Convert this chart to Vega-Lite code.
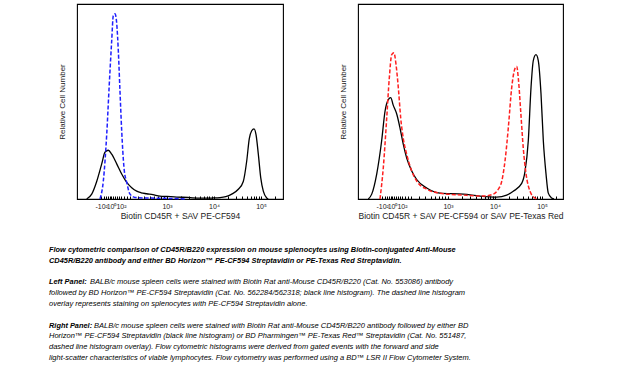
{
  "$schema": "https://vega.github.io/schema/vega-lite/v6.json",
  "padding": {"left": 49, "top": 3, "right": 5, "bottom": 5},
  "autosize": {"type": "pad"},
  "background": "white",
  "bounds": "flush",
  "spacing": 246,
  "config": {
    "view": {"stroke": "#000", "strokeWidth": 1.1},
    "font": "Liberation Sans",
    "axis": {"grid": false, "labelFontSize": 7, "labelColor": "#222", "titleFontSize": 8.5, "titleFontWeight": "normal", "titleColor": "#222", "domain": false}
  },
  "datasets": {
    "hist": [
      {"panel": "left", "stain": "Biotin CD45R + SAV PE-CF594", "x": 1.291, "y": 0},
      {"panel": "left", "stain": "Biotin CD45R + SAV PE-CF594", "x": 1.398, "y": 2.5},
      {"panel": "left", "stain": "Biotin CD45R + SAV PE-CF594", "x": 1.504, "y": 9},
      {"panel": "left", "stain": "Biotin CD45R + SAV PE-CF594", "x": 1.611, "y": 18},
      {"panel": "left", "stain": "Biotin CD45R + SAV PE-CF594", "x": 1.681, "y": 24},
      {"panel": "left", "stain": "Biotin CD45R + SAV PE-CF594", "x": 1.751, "y": 25},
      {"panel": "left", "stain": "Biotin CD45R + SAV PE-CF594", "x": 1.823, "y": 23},
      {"panel": "left", "stain": "Biotin CD45R + SAV PE-CF594", "x": 1.93, "y": 18},
      {"panel": "left", "stain": "Biotin CD45R + SAV PE-CF594", "x": 2.036, "y": 12.8},
      {"panel": "left", "stain": "Biotin CD45R + SAV PE-CF594", "x": 2.143, "y": 8.5},
      {"panel": "left", "stain": "Biotin CD45R + SAV PE-CF594", "x": 2.249, "y": 5.8},
      {"panel": "left", "stain": "Biotin CD45R + SAV PE-CF594", "x": 2.355, "y": 4},
      {"panel": "left", "stain": "Biotin CD45R + SAV PE-CF594", "x": 2.45, "y": 3.2},
      {"panel": "left", "stain": "Biotin CD45R + SAV PE-CF594", "x": 2.568, "y": 2.7},
      {"panel": "left", "stain": "Biotin CD45R + SAV PE-CF594", "x": 2.7, "y": 2.2},
      {"panel": "left", "stain": "Biotin CD45R + SAV PE-CF594", "x": 2.851, "y": 1.5},
      {"panel": "left", "stain": "Biotin CD45R + SAV PE-CF594", "x": 3.0, "y": 1.3},
      {"panel": "left", "stain": "Biotin CD45R + SAV PE-CF594", "x": 3.206, "y": 1},
      {"panel": "left", "stain": "Biotin CD45R + SAV PE-CF594", "x": 3.45, "y": 0.8},
      {"panel": "left", "stain": "Biotin CD45R + SAV PE-CF594", "x": 3.702, "y": 0.4},
      {"panel": "left", "stain": "Biotin CD45R + SAV PE-CF594", "x": 3.95, "y": 0.5},
      {"panel": "left", "stain": "Biotin CD45R + SAV PE-CF594", "x": 4.128, "y": 0.7},
      {"panel": "left", "stain": "Biotin CD45R + SAV PE-CF594", "x": 4.25, "y": 1.2},
      {"panel": "left", "stain": "Biotin CD45R + SAV PE-CF594", "x": 4.377, "y": 2.5},
      {"panel": "left", "stain": "Biotin CD45R + SAV PE-CF594", "x": 4.517, "y": 5},
      {"panel": "left", "stain": "Biotin CD45R + SAV PE-CF594", "x": 4.623, "y": 9},
      {"panel": "left", "stain": "Biotin CD45R + SAV PE-CF594", "x": 4.696, "y": 19.5},
      {"panel": "left", "stain": "Biotin CD45R + SAV PE-CF594", "x": 4.751, "y": 31},
      {"panel": "left", "stain": "Biotin CD45R + SAV PE-CF594", "x": 4.802, "y": 35},
      {"panel": "left", "stain": "Biotin CD45R + SAV PE-CF594", "x": 4.851, "y": 36},
      {"panel": "left", "stain": "Biotin CD45R + SAV PE-CF594", "x": 4.894, "y": 33},
      {"panel": "left", "stain": "Biotin CD45R + SAV PE-CF594", "x": 4.943, "y": 23},
      {"panel": "left", "stain": "Biotin CD45R + SAV PE-CF594", "x": 4.994, "y": 11},
      {"panel": "left", "stain": "Biotin CD45R + SAV PE-CF594", "x": 5.049, "y": 4},
      {"panel": "left", "stain": "Biotin CD45R + SAV PE-CF594", "x": 5.121, "y": 0.5},
      {"panel": "left", "stain": "Biotin CD45R + SAV PE-CF594", "x": 5.155, "y": 0},
      {"panel": "left", "stain": "SAV PE-CF594 alone", "x": 1.574, "y": 0},
      {"panel": "left", "stain": "SAV PE-CF594 alone", "x": 1.645, "y": 9.2},
      {"panel": "left", "stain": "SAV PE-CF594 alone", "x": 1.717, "y": 33},
      {"panel": "left", "stain": "SAV PE-CF594 alone", "x": 1.772, "y": 59},
      {"panel": "left", "stain": "SAV PE-CF594 alone", "x": 1.823, "y": 81},
      {"panel": "left", "stain": "SAV PE-CF594 alone", "x": 1.857, "y": 94},
      {"panel": "left", "stain": "SAV PE-CF594 alone", "x": 1.894, "y": 95},
      {"panel": "left", "stain": "SAV PE-CF594 alone", "x": 1.93, "y": 90},
      {"panel": "left", "stain": "SAV PE-CF594 alone", "x": 1.964, "y": 76},
      {"panel": "left", "stain": "SAV PE-CF594 alone", "x": 2.0, "y": 55},
      {"panel": "left", "stain": "SAV PE-CF594 alone", "x": 2.036, "y": 35},
      {"panel": "left", "stain": "SAV PE-CF594 alone", "x": 2.085, "y": 16},
      {"panel": "left", "stain": "SAV PE-CF594 alone", "x": 2.143, "y": 8.5},
      {"panel": "left", "stain": "SAV PE-CF594 alone", "x": 2.213, "y": 2.5},
      {"panel": "left", "stain": "SAV PE-CF594 alone", "x": 2.319, "y": 0.8},
      {"panel": "left", "stain": "SAV PE-CF594 alone", "x": 2.568, "y": 0.5},
      {"panel": "left", "stain": "SAV PE-CF594 alone", "x": 2.851, "y": 0.4},
      {"panel": "left", "stain": "SAV PE-CF594 alone", "x": 3.206, "y": 0.2},
      {"panel": "left", "stain": "SAV PE-CF594 alone", "x": 3.383, "y": 0},
      {"panel": "right", "stain": "Biotin CD45R + SAV PE-CF594", "x": 1.304, "y": 0},
      {"panel": "right", "stain": "Biotin CD45R + SAV PE-CF594", "x": 1.377, "y": 2.5},
      {"panel": "right", "stain": "Biotin CD45R + SAV PE-CF594", "x": 1.483, "y": 12.8},
      {"panel": "right", "stain": "Biotin CD45R + SAV PE-CF594", "x": 1.589, "y": 30},
      {"panel": "right", "stain": "Biotin CD45R + SAV PE-CF594", "x": 1.66, "y": 45},
      {"panel": "right", "stain": "Biotin CD45R + SAV PE-CF594", "x": 1.73, "y": 51},
      {"panel": "right", "stain": "Biotin CD45R + SAV PE-CF594", "x": 1.781, "y": 52},
      {"panel": "right", "stain": "Biotin CD45R + SAV PE-CF594", "x": 1.836, "y": 48},
      {"panel": "right", "stain": "Biotin CD45R + SAV PE-CF594", "x": 1.909, "y": 43.6},
      {"panel": "right", "stain": "Biotin CD45R + SAV PE-CF594", "x": 1.979, "y": 36.4},
      {"panel": "right", "stain": "Biotin CD45R + SAV PE-CF594", "x": 2.049, "y": 28},
      {"panel": "right", "stain": "Biotin CD45R + SAV PE-CF594", "x": 2.121, "y": 21},
      {"panel": "right", "stain": "Biotin CD45R + SAV PE-CF594", "x": 2.228, "y": 14.4},
      {"panel": "right", "stain": "Biotin CD45R + SAV PE-CF594", "x": 2.334, "y": 10},
      {"panel": "right", "stain": "Biotin CD45R + SAV PE-CF594", "x": 2.547, "y": 5.6},
      {"panel": "right", "stain": "Biotin CD45R + SAV PE-CF594", "x": 2.83, "y": 3},
      {"panel": "right", "stain": "Biotin CD45R + SAV PE-CF594", "x": 3.326, "y": 2.5},
      {"panel": "right", "stain": "Biotin CD45R + SAV PE-CF594", "x": 3.681, "y": 1.5},
      {"panel": "right", "stain": "Biotin CD45R + SAV PE-CF594", "x": 4.036, "y": 1},
      {"panel": "right", "stain": "Biotin CD45R + SAV PE-CF594", "x": 4.249, "y": 2},
      {"panel": "right", "stain": "Biotin CD45R + SAV PE-CF594", "x": 4.389, "y": 4},
      {"panel": "right", "stain": "Biotin CD45R + SAV PE-CF594", "x": 4.568, "y": 8},
      {"panel": "right", "stain": "Biotin CD45R + SAV PE-CF594", "x": 4.638, "y": 14},
      {"panel": "right", "stain": "Biotin CD45R + SAV PE-CF594", "x": 4.709, "y": 30},
      {"panel": "right", "stain": "Biotin CD45R + SAV PE-CF594", "x": 4.766, "y": 57},
      {"panel": "right", "stain": "Biotin CD45R + SAV PE-CF594", "x": 4.815, "y": 71},
      {"panel": "right", "stain": "Biotin CD45R + SAV PE-CF594", "x": 4.872, "y": 74},
      {"panel": "right", "stain": "Biotin CD45R + SAV PE-CF594", "x": 4.921, "y": 71},
      {"panel": "right", "stain": "Biotin CD45R + SAV PE-CF594", "x": 4.979, "y": 54},
      {"panel": "right", "stain": "Biotin CD45R + SAV PE-CF594", "x": 5.028, "y": 30},
      {"panel": "right", "stain": "Biotin CD45R + SAV PE-CF594", "x": 5.085, "y": 13},
      {"panel": "right", "stain": "Biotin CD45R + SAV PE-CF594", "x": 5.134, "y": 3},
      {"panel": "right", "stain": "Biotin CD45R + SAV PE-CF594", "x": 5.206, "y": 0.5},
      {"panel": "right", "stain": "Biotin CD45R + SAV PE-CF594", "x": 5.255, "y": 0},
      {"panel": "right", "stain": "Biotin CD45R + SAV PE-Texas Red", "x": 1.553, "y": 0},
      {"panel": "right", "stain": "Biotin CD45R + SAV PE-Texas Red", "x": 1.623, "y": 16},
      {"panel": "right", "stain": "Biotin CD45R + SAV PE-Texas Red", "x": 1.696, "y": 41.5},
      {"panel": "right", "stain": "Biotin CD45R + SAV PE-Texas Red", "x": 1.751, "y": 62},
      {"panel": "right", "stain": "Biotin CD45R + SAV PE-Texas Red", "x": 1.802, "y": 74},
      {"panel": "right", "stain": "Biotin CD45R + SAV PE-Texas Red", "x": 1.851, "y": 75},
      {"panel": "right", "stain": "Biotin CD45R + SAV PE-Texas Red", "x": 1.894, "y": 69},
      {"panel": "right", "stain": "Biotin CD45R + SAV PE-Texas Red", "x": 1.943, "y": 57},
      {"panel": "right", "stain": "Biotin CD45R + SAV PE-Texas Red", "x": 1.994, "y": 41.5},
      {"panel": "right", "stain": "Biotin CD45R + SAV PE-Texas Red", "x": 2.049, "y": 31},
      {"panel": "right", "stain": "Biotin CD45R + SAV PE-Texas Red", "x": 2.121, "y": 23},
      {"panel": "right", "stain": "Biotin CD45R + SAV PE-Texas Red", "x": 2.228, "y": 14.4},
      {"panel": "right", "stain": "Biotin CD45R + SAV PE-Texas Red", "x": 2.334, "y": 9.2},
      {"panel": "right", "stain": "Biotin CD45R + SAV PE-Texas Red", "x": 2.547, "y": 5},
      {"panel": "right", "stain": "Biotin CD45R + SAV PE-Texas Red", "x": 2.83, "y": 3},
      {"panel": "right", "stain": "Biotin CD45R + SAV PE-Texas Red", "x": 3.326, "y": 2},
      {"panel": "right", "stain": "Biotin CD45R + SAV PE-Texas Red", "x": 3.751, "y": 1.5},
      {"panel": "right", "stain": "Biotin CD45R + SAV PE-Texas Red", "x": 3.964, "y": 2.5},
      {"panel": "right", "stain": "Biotin CD45R + SAV PE-Texas Red", "x": 4.07, "y": 5},
      {"panel": "right", "stain": "Biotin CD45R + SAV PE-Texas Red", "x": 4.143, "y": 9},
      {"panel": "right", "stain": "Biotin CD45R + SAV PE-Texas Red", "x": 4.213, "y": 19.5},
      {"panel": "right", "stain": "Biotin CD45R + SAV PE-Texas Red", "x": 4.283, "y": 36.4},
      {"panel": "right", "stain": "Biotin CD45R + SAV PE-Texas Red", "x": 4.355, "y": 57},
      {"panel": "right", "stain": "Biotin CD45R + SAV PE-Texas Red", "x": 4.426, "y": 67},
      {"panel": "right", "stain": "Biotin CD45R + SAV PE-Texas Red", "x": 4.462, "y": 68},
      {"panel": "right", "stain": "Biotin CD45R + SAV PE-Texas Red", "x": 4.496, "y": 62},
      {"panel": "right", "stain": "Biotin CD45R + SAV PE-Texas Red", "x": 4.547, "y": 45},
      {"panel": "right", "stain": "Biotin CD45R + SAV PE-Texas Red", "x": 4.602, "y": 26},
      {"panel": "right", "stain": "Biotin CD45R + SAV PE-Texas Red", "x": 4.66, "y": 13},
      {"panel": "right", "stain": "Biotin CD45R + SAV PE-Texas Red", "x": 4.745, "y": 4},
      {"panel": "right", "stain": "Biotin CD45R + SAV PE-Texas Red", "x": 4.851, "y": 0.5},
      {"panel": "right", "stain": "Biotin CD45R + SAV PE-Texas Red", "x": 4.921, "y": 0}
    ],
    "caption": [
      {"line": 0, "kind": "head", "text": "Flow cytometric comparison of CD45R/B220 expression on mouse splenocytes using Biotin-conjugated Anti-Mouse"},
      {"line": 1, "kind": "head", "text": "CD45R/B220 antibody and either BD Horizon™ PE-CF594 Streptavidin or PE-Texas Red Streptavidin."},
      {"line": 3, "kind": "head", "text": "Left Panel:"},
      {"line": 3, "kind": "restL", "text": "BALB/c mouse spleen cells were stained with Biotin Rat anti-Mouse CD45R/B220 (Cat. No. 553086) antibody"},
      {"line": 4, "kind": "body", "text": "followed by BD Horizon™ PE-CF594 Streptavidin (Cat. No. 562284/562318; black line histogram). The dashed line histogram"},
      {"line": 5, "kind": "body", "text": "overlay represents staining on splenocytes with PE-CF594 Streptavidin alone."},
      {"line": 7, "kind": "head", "text": "Right Panel:"},
      {"line": 7, "kind": "restR", "text": "BALB/c mouse spleen cells were stained with Biotin Rat anti-Mouse CD45R/B220 antibody followed by either BD"},
      {"line": 8, "kind": "body", "text": "Horizon™ PE-CF594 Streptavidin (black line histogram) or BD Pharmingen™ PE-Texas Red™ Streptavidin (Cat. No. 551487,"},
      {"line": 9, "kind": "body", "text": "dashed line histogram overlay). Flow cytometric histograms were derived from gated events with the forward and side"},
      {"line": 10, "kind": "body", "text": "light-scatter characteristics of viable lymphocytes. Flow cytometry was performed using a BD™ LSR II Flow Cytometer System."}
    ]
  },
  "vconcat": [
    {
      "bounds": "flush",
      "spacing": 75,
      "hconcat": [
        {
          "width": 206,
          "height": 195,
          "data": {"name": "hist"},
          "transform": [{"filter": "datum.panel == 'left'"}],
          "encoding": {
            "x": {"field": "x", "type": "quantitative", "scale": {"domain": [1.085, 5.468], "nice": false, "zero": false},
              "axis": {"title": "Biotin CD45R + SAV PE-CF594", "values": [1.6, 1.66, 1.7, 1.74, 1.78, 1.81, 1.85, 1.89, 1.93, 1.97, 2.02, 2.08, 2.14, 2.22, 2.38, 2.52, 2.63, 2.72, 2.8, 2.87, 2.94, 3, 3.301, 3.477, 3.602, 3.699, 3.778, 3.845, 3.903, 3.954, 4, 4.301, 4.477, 4.602, 4.699, 4.778, 4.845, 4.903, 4.954, 5, 5.301],
                "labelExpr": "datum.value == 1.6 ? '-10²' : datum.value == 1.81 ? '10⁰' : datum.value == 2.02 ? '10²' : datum.value == 3 ? '10³' : datum.value == 4 ? '10⁴' : datum.value == 5 ? '10⁵' : ''",
                "labelOverlap": false, "labelFlush": false, "labelBound": false, "tickSize": -3, "tickColor": "#000", "labelPadding": 6, "titlePadding": 2}},
            "y": {"field": "y", "type": "quantitative", "scale": {"domain": [0, 100], "nice": false},
              "axis": {"title": "Relative Cell Number", "labels": false, "ticks": false, "titleFontSize": 8, "titlePadding": 11}}
          },
          "layer": [
            {"transform": [{"filter": "datum.stain == 'Biotin CD45R + SAV PE-CF594'"}], "mark": {"type": "line", "color": "#000", "strokeWidth": 1.3, "interpolate": "monotone"}},
            {"transform": [{"filter": "datum.stain == 'SAV PE-CF594 alone'"}], "mark": {"type": "line", "color": "#1f1fff", "strokeWidth": 1.5, "strokeDash": [4, 2], "interpolate": "monotone"}}
          ]
        },
        {
          "width": 205,
          "height": 195,
          "data": {"name": "hist"},
          "transform": [{"filter": "datum.panel == 'right'"}],
          "encoding": {
            "x": {"field": "x", "type": "quantitative", "scale": {"domain": [1.085, 5.447], "nice": false, "zero": false},
              "axis": {"title": "Biotin CD45R + SAV PE-CF594 or SAV PE-Texas Red", "values": [1.6, 1.66, 1.7, 1.74, 1.78, 1.81, 1.85, 1.89, 1.93, 1.97, 2.02, 2.08, 2.14, 2.22, 2.38, 2.52, 2.63, 2.72, 2.8, 2.87, 2.94, 3, 3.301, 3.477, 3.602, 3.699, 3.778, 3.845, 3.903, 3.954, 4, 4.301, 4.477, 4.602, 4.699, 4.778, 4.845, 4.903, 4.954, 5, 5.301],
                "labelExpr": "datum.value == 1.6 ? '-10²' : datum.value == 1.81 ? '10⁰' : datum.value == 2.02 ? '10²' : datum.value == 3 ? '10³' : datum.value == 4 ? '10⁴' : datum.value == 5 ? '10⁵' : ''",
                "labelOverlap": false, "labelFlush": false, "labelBound": false, "tickSize": -3, "tickColor": "#000", "labelPadding": 6, "titlePadding": 2}},
            "y": {"field": "y", "type": "quantitative", "scale": {"domain": [0, 100], "nice": false},
              "axis": {"title": "Relative Cell Number", "labels": false, "ticks": false, "titleFontSize": 8, "titlePadding": 11}}
          },
          "layer": [
            {"transform": [{"filter": "datum.stain == 'Biotin CD45R + SAV PE-CF594'"}], "mark": {"type": "line", "color": "#000", "strokeWidth": 1.3, "interpolate": "monotone"}},
            {"transform": [{"filter": "datum.stain == 'Biotin CD45R + SAV PE-Texas Red'"}], "mark": {"type": "line", "color": "#ff2020", "strokeWidth": 1.5, "strokeDash": [4, 2], "interpolate": "monotone"}}
          ]
        }
      ]
    },
    {
      "width": 430,
      "height": 108,
      "view": {"stroke": null},
      "data": {"name": "caption"},
      "encoding": {
        "y": {"field": "line", "type": "quantitative", "scale": {"domain": [0, 10], "reverse": true, "nice": false, "zero": false}, "axis": null},
        "text": {"field": "text"}
      },
      "layer": [
        {"transform": [{"filter": "datum.kind == 'head'"}], "mark": {"type": "text", "align": "left", "baseline": "middle", "x": 0, "dx": -28, "fontSize": 7.4, "fontStyle": "italic", "fontWeight": "bold", "color": "#000"}},
        {"transform": [{"filter": "datum.kind == 'body'"}], "mark": {"type": "text", "align": "left", "baseline": "middle", "x": 0, "dx": -28, "fontSize": 7.5, "fontStyle": "italic", "color": "#000"}},
        {"transform": [{"filter": "datum.kind == 'restL'"}], "mark": {"type": "text", "align": "left", "baseline": "middle", "x": 0, "dx": 13, "fontSize": 7.5, "fontStyle": "italic", "color": "#000"}},
        {"transform": [{"filter": "datum.kind == 'restR'"}], "mark": {"type": "text", "align": "left", "baseline": "middle", "x": 0, "dx": 17, "fontSize": 7.5, "fontStyle": "italic", "color": "#000"}}
      ]
    }
  ]
}
